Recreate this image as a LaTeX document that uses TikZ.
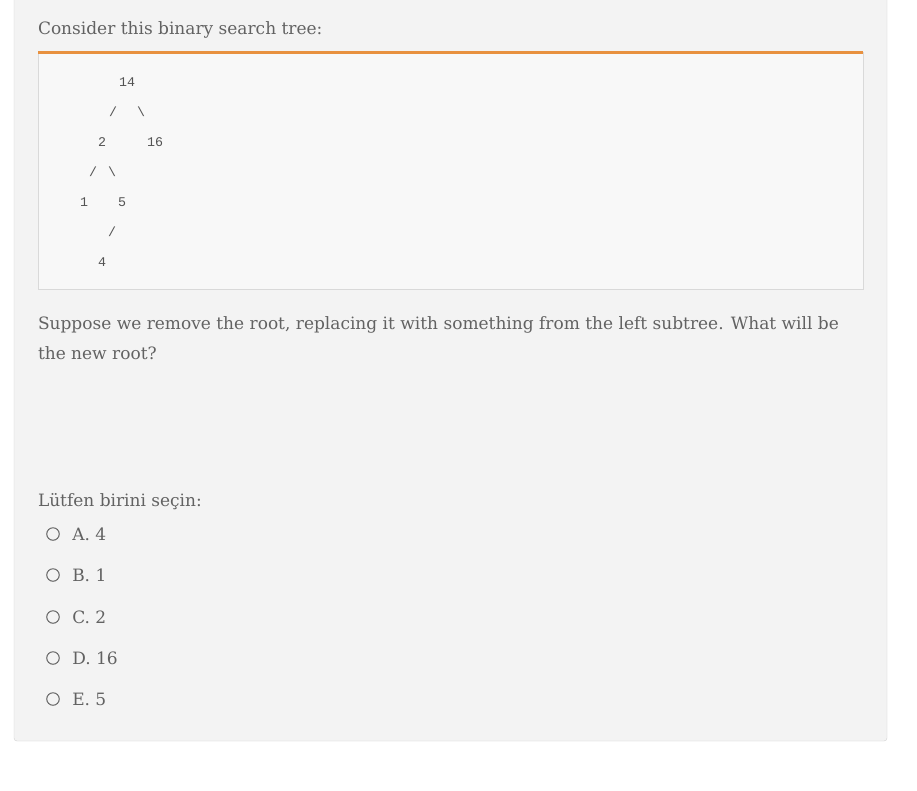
\documentclass[tikz,border=0pt]{standalone}
\usepackage{fontspec}
\setmainfont{DejaVu Serif}
\setmonofont{Liberation Mono}
\usetikzlibrary{positioning}
\definecolor{pagebg}{HTML}{F3F3F3}
\definecolor{panelline}{HTML}{D3D3D3}
\definecolor{codebg}{HTML}{F8F8F8}
\definecolor{codeline}{HTML}{D9D9D9}
\definecolor{accent}{HTML}{E8913F}
\definecolor{txt}{HTML}{626262}

\begin{document}
\begin{tikzpicture}[
            x=1pt, y=-1pt,
            every node/.style = {inner sep=0pt, outer sep=0pt},
            body/.style = {anchor=base west, text=txt, font=\fontsize{17}{20}\selectfont},
            mono/.style = {anchor=base, text=txt!85!black, font=\ttfamily\fontsize{13.3}{15}\selectfont},
            radio/.style = {circle, draw=txt, line width=1pt, minimum size=12.5pt},
            choice/.style = {right=13pt of #1, text=txt, font=\fontsize{17}{20}\selectfont}
        ]
        \useasboundingbox (0,0) rectangle (917,790);
        \fill[white] (0,0) rectangle (917,790);

        % question panel
        \filldraw[fill=pagebg, draw=panelline, rounded corners=3pt] (14,-10) rectangle (887,741);

        \node[body] (title) at (38,34) {Consider this binary search tree:};

        % code block with the tree
        \filldraw[fill=codebg, draw=codeline] (38,52) rectangle (863,289);
        \draw[accent, line width=3pt] (38,52.5) -- (863,52.5);

        \node[mono] (n14) at (127,86) {14};
        \node[mono] (s1) at (113,116) {/};
        \node[mono] (s2) at (141,116) {\textbackslash};
        \node[mono] (n2) at (102,146) {2};
        \node[mono] (n16) at (155,146) {16};
        \node[mono] (s3) at (93,176) {/};
        \node[mono] (s4) at (112,176) {\textbackslash};
        \node[mono] (n1) at (84,206) {1};
        \node[mono] (n5) at (122,206) {5};
        \node[mono] (s5) at (112,236) {/};
        \node[mono] (n4) at (102,266) {4};

        \node[body] (q1) at (38,329) {Suppose we remove the root, replacing it with something from the left subtree. What will be};
        \node[body] (q2) at (38,359) {the new root?};

        \node[body] (pick) at (38,506) {Lütfen birini seçin:};

        % choices
        \node[radio] (ra) at (53,534) {};
        \node[choice=ra] (la) {A. 4};
        \node[radio] (rb) at (53,575) {};
        \node[choice=rb] (lb) {B. 1};
        \node[radio] (rc) at (53,617) {};
        \node[choice=rc] (lc) {C. 2};
        \node[radio] (rd) at (53,658) {};
        \node[choice=rd] (ld) {D. 16};
        \node[radio] (re) at (53,699) {};
        \node[choice=re] (le) {E. 5};
\end{tikzpicture}
\end{document}
